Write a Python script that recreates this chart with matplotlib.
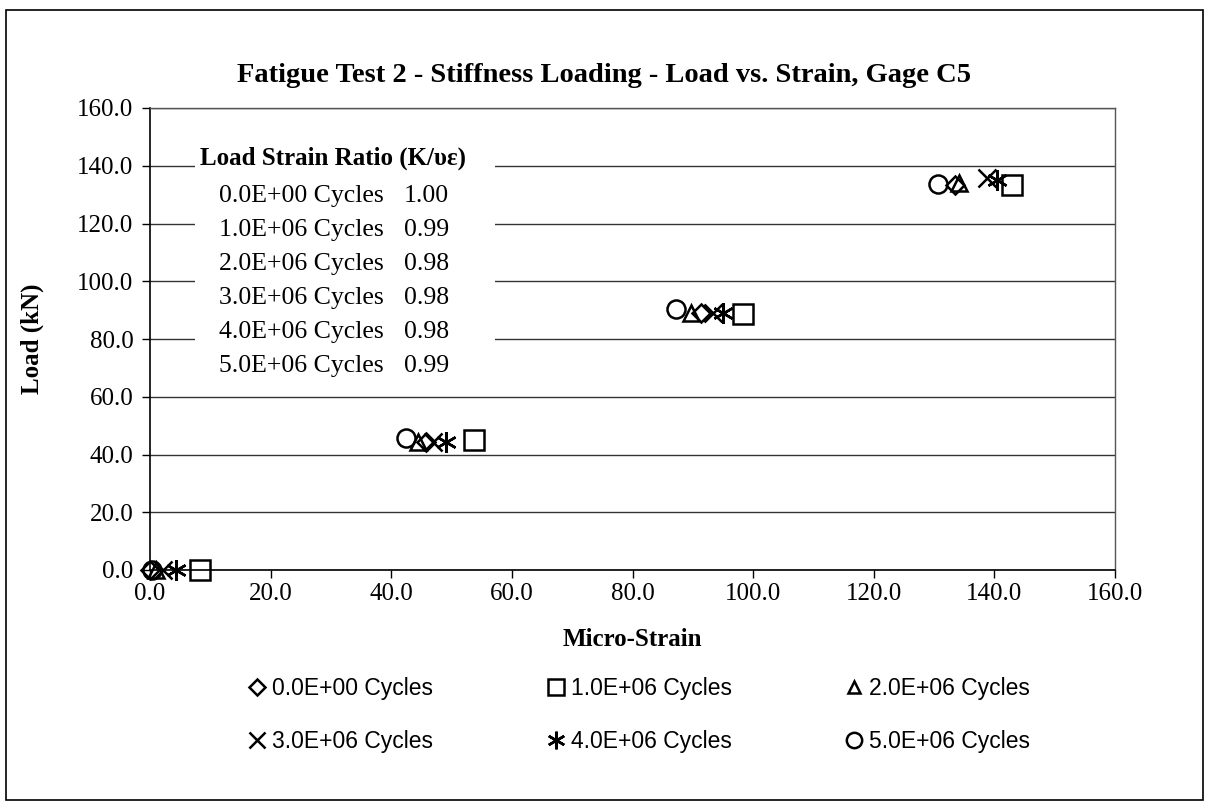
import matplotlib
matplotlib.use("Agg")
import matplotlib.pyplot as plt
from matplotlib.patches import Rectangle

# Stiffness loading data for gage C5 (micro-strain vs. load in kN)
series_labels = ["0.0E+00 Cycles", "1.0E+06 Cycles", "2.0E+06 Cycles",
                 "3.0E+06 Cycles", "4.0E+06 Cycles", "5.0E+06 Cycles"]
loads_0e0 = [0.0, 44.5, 89.0, 133.5]
strain_0e0 = [0.0, 45.7, 91.4, 133.5]
loads_1e6 = [0.0, 45.0, 88.5, 133.5]
strain_1e6 = [8.3, 53.7, 98.3, 142.9]
loads_2e6 = [0.0, 44.5, 89.0, 134.0]
strain_2e6 = [1.0, 44.4, 89.7, 134.2]
loads_3e6 = [0.0, 44.5, 89.0, 135.7]
strain_3e6 = [2.2, 47.0, 93.4, 138.7]
loads_4e6 = [0.0, 44.5, 89.0, 135.0]
strain_4e6 = [4.3, 49.0, 95.0, 140.4]
loads_5e6 = [0.0, 45.7, 90.5, 133.8]
strain_5e6 = [0.3, 42.4, 87.2, 130.6]

ratio_values = ["1.00", "0.99", "0.98", "0.98", "0.98", "0.99"]

x_ticks = [0, 20, 40, 60, 80, 100, 120, 140, 160]
y_ticks = [0, 20, 40, 60, 80, 100, 120, 140, 160]

serif = ["Liberation Serif", "DejaVu Serif"]
sans = ["Liberation Sans", "DejaVu Sans"]

fig = plt.figure(figsize=(12.09, 8.02), dpi=100)
ax = fig.add_axes([150 / 1209, 1 - 570 / 802, 965 / 1209, 462 / 802])

# outer border around the whole figure
fig.patches.append(Rectangle((6 / 1209, 2 / 802), 1197 / 1209, 790 / 802,
                             transform=fig.transFigure, fill=False,
                             edgecolor="black", linewidth=1.2))

markers = ["D", "s", "^", "x", (6, 2, 0), "o"]
sizes = [9, 14, 11, 13, 15, 13]
data = [(strain_0e0, loads_0e0), (strain_1e6, loads_1e6), (strain_2e6, loads_2e6),
        (strain_3e6, loads_3e6), (strain_4e6, loads_4e6), (strain_5e6, loads_5e6)]

handles = []
for (xs, ys), m, s, lab in zip(data, markers, sizes, series_labels):
    h, = ax.plot(xs, ys, linestyle="none", marker=m, markersize=s,
                 markerfacecolor="none", markeredgecolor="black",
                 markeredgewidth=1.8, label=lab, zorder=5, clip_on=False)
    handles.append(h)

ax.set_xlim(0, 160)
ax.set_ylim(0, 160)
ax.set_xticks(x_ticks)
ax.set_yticks(y_ticks)
ax.set_xticklabels([f"{v:.1f}" for v in x_ticks], fontfamily=serif, fontsize=18)
ax.set_yticklabels([f"{v:.1f}" for v in y_ticks], fontfamily=serif, fontsize=18)
ax.tick_params(axis="both", direction="out", length=6, width=1.0, color="black")
ax.tick_params(axis="x", pad=3)
ax.tick_params(axis="y", pad=6)
ax.yaxis.grid(True, color="#333333", linewidth=1.0)
ax.set_axisbelow(True)
for side in ["left", "bottom"]:
    ax.spines[side].set_color("black")
    ax.spines[side].set_linewidth(1.2)
for side in ["top", "right"]:
    ax.spines[side].set_color("#555555")
    ax.spines[side].set_linewidth(1.0)

ax.set_xlabel("Micro-Strain", fontfamily=serif, fontsize=18, fontweight="bold",
              labelpad=17)
ax.set_ylabel("Load (kN)", fontfamily=serif, fontsize=18, fontweight="bold",
              labelpad=24)
fig.text(604 / 1209, 1 - 75 / 802,
         "Fatigue Test 2 - Stiffness Loading - Load vs. Strain, Gage C5",
         ha="center", va="center", fontfamily=serif, fontsize=20.5, fontweight="bold")

# load-strain ratio table inside the plot area
ax.add_patch(Rectangle((0.047, 0.40), 0.311, 0.52, transform=ax.transAxes,
                       facecolor="white", edgecolor="none", zorder=2))
ax.text(0.052, 0.892, "Load Strain Ratio (K/υε)", transform=ax.transAxes,
        ha="left", va="center", fontfamily=serif, fontsize=18,
        fontweight="bold", zorder=3)
row_y = [0.810, 0.736, 0.662, 0.589, 0.515, 0.442]
for lab, val, yy in zip(series_labels, ratio_values, row_y):
    ax.text(0.071, yy, lab, transform=ax.transAxes, ha="left", va="center",
            fontfamily=serif, fontsize=18.5, zorder=3)
    ax.text(0.310, yy, val, transform=ax.transAxes, ha="right", va="center",
            fontfamily=serif, fontsize=18.5, zorder=3)

order = [0, 3, 1, 4, 2, 5]
leg = fig.legend([handles[i] for i in order], [series_labels[i] for i in order],
                 ncol=3, loc="center", bbox_to_anchor=(0.529, 1 - 715 / 802),
                 frameon=False, prop={"family": sans, "size": 16.5},
                 handlelength=0.7, handletextpad=0.3, columnspacing=5.0,
                 labelspacing=1.3, markerscale=0.85)

fig.savefig("out.png", dpi=100)
